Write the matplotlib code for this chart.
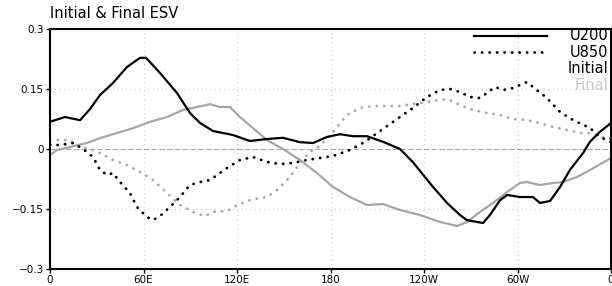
import matplotlib
matplotlib.use("Agg")
import matplotlib.pyplot as plt
import numpy as np

# U200 initial (black solid)
lon_u200_init = [0, 9.6, 19.3, 25.7, 32.1, 40.4, 49.4, 57.8, 61.6, 70.6, 81.5, 89.8, 96.3, 104.6,
                 117.4, 128.3, 139.3, 149.5, 160.4, 168.8, 177.7, 186.1, 194.4, 203.4, 213.7, 224.6,
                 232.9, 245.8, 254.8, 263.1, 267.6, 277.9, 282.3, 288.8, 293.3, 301.6, 309.9, 314.4,
                 320.9, 327.3, 333.7, 342.1, 346.5, 352.9, 360]
u200_init = [0.068, 0.08, 0.072, 0.10, 0.135, 0.165, 0.205, 0.228, 0.228, 0.19, 0.14, 0.09, 0.065, 0.045,
             0.035, 0.02, 0.025, 0.028, 0.017, 0.015, 0.03, 0.037, 0.032, 0.032, 0.018, 0.0,
             -0.033, -0.095, -0.135, -0.165, -0.178, -0.185, -0.165, -0.128, -0.115, -0.12, -0.12, -0.135,
             -0.13, -0.095, -0.052, -0.01, 0.018, 0.043, 0.065]

# U200 final (gray solid)
lon_u200_final = [0, 4.5, 10.9, 23.7, 32.1, 43, 53.3, 64.2, 75.1, 85.3, 94.3, 102.7, 109.1, 115.5,
                  121.9, 130.3, 139.3, 149.5, 160.4, 171.3, 181.6, 192.5, 203.4, 213.7, 224.6, 237.4,
                  250.3, 261.2, 267.6, 275.9, 284.3, 293.3, 301.6, 306.1, 314.4, 322.8, 329.2, 338.2,
                  346.5, 360]
u200_final = [-0.015, -0.0025, 0.003, 0.015, 0.027, 0.04, 0.052, 0.068, 0.08, 0.0975, 0.105, 0.112, 0.105, 0.105,
              0.08, 0.052, 0.022, 0.0, -0.0275, -0.06, -0.095, -0.12, -0.14, -0.1375, -0.1525, -0.165,
              -0.1825, -0.1925, -0.1825, -0.1575, -0.135, -0.1075, -0.085, -0.0825, -0.09, -0.085, -0.0825, -0.07,
              -0.0525, -0.0225]

# U850 initial (black dotted)
lon_u850_init = [0, 6.4, 14.8, 21.2, 27.6, 32.1, 36.6, 40.4, 44.9, 51.3, 55.8, 62.2, 66.1, 70.6, 77,
                 83.4, 89.8, 96.3, 102.7, 113.6, 121.9, 130.3, 139.3, 147.6, 155.9, 164.9, 173.3,
                 181.6, 192.5, 202.1, 211.8, 224.6, 232.9, 241.9, 250.3, 256.7, 263.1, 269.5, 275.9,
                 280.4, 285.6, 290.7, 297.1, 306.1, 309.9, 318.9, 327.3, 335.6, 346.5, 352.9, 360]
u850_init = [0.01, 0.01, 0.015, 0.0, -0.02, -0.0525, -0.065, -0.06, -0.0825, -0.11, -0.145, -0.17, -0.1775, -0.1675, -0.145,
             -0.12, -0.09, -0.0825, -0.0775, -0.0475, -0.0275, -0.02, -0.0325, -0.0375, -0.035, -0.0275, -0.0225,
             -0.0175, -0.0025, 0.018, 0.045, 0.08, 0.1025, 0.13, 0.1475, 0.15, 0.1425, 0.13, 0.1275,
             0.14, 0.155, 0.1475, 0.1525, 0.1675, 0.155, 0.1275, 0.0925, 0.0725, 0.0525, 0.03, 0.0175]

# U850 final (gray dotted)
lon_u850_final = [0, 12.8, 19.3, 25.7, 32.1, 40.4, 49.4, 57.8, 66.1, 75.1, 83.4, 91.8, 99.5, 104.6,
                  113.6, 120, 128.3, 139.3, 145.7, 154, 160.4, 166.8, 173.3, 181.6, 190.6, 198.9,
                  207.3, 224.6, 232.9, 241.9, 250.3, 254.8, 263.1, 271.4, 280.4, 288.8, 297.1, 306.1,
                  314.4, 322.8, 331.7, 340.1, 348.4, 352.9, 360]
u850_final = [0.0225, 0.0225, 0.005, 0.0, -0.01, -0.0275, -0.04, -0.0575, -0.0775, -0.11, -0.14, -0.1575, -0.168, -0.1575,
              -0.155, -0.14, -0.1275, -0.12, -0.1025, -0.07, -0.035, -0.0075, 0.008, 0.0425, 0.085, 0.1025,
              0.1075, 0.1075, 0.1125, 0.1175, 0.1225, 0.125, 0.11, 0.0975, 0.09, 0.085, 0.075, 0.0725,
              0.065, 0.055, 0.0475, 0.04, 0.04, 0.03, 0.025]

xticks = [0, 60, 120, 180, 240, 300, 360]
xlabels = ["0", "60E", "120E", "180", "120W", "60W", "0"]
yticks = [-0.3, -0.15, 0, 0.15, 0.3]
ylabels = ["\u22120.3", "\u22120.15", "0", "0.15", "0.3"]

DOT = (0, (0.1, 2.6))

fig = plt.figure(figsize=(6.12, 2.86), dpi=100)
ax = fig.add_axes([50 / 612, 1 - 269 / 286, 561 / 612, 240 / 286])

for xv in xticks[1:-1]:
    ax.axvline(xv, color="#c8c8c8", lw=0.8, ls=(0, (1, 3)), zorder=1)
for yv in [-0.15, 0.15]:
    ax.axhline(yv, color="#c8c8c8", lw=0.8, ls=(0, (1, 3)), zorder=1)
ax.axhline(0, color="#a8a8a8", lw=0.8, ls=(0, (5, 2)), zorder=1)

ax.plot(lon_u200_final, u200_final, color="#a6a6a6", lw=1.6, zorder=2)
ax.plot(lon_u850_final, u850_final, color="#aaaaaa", lw=2.0, ls=DOT,
        dash_capstyle="round", zorder=2)
ax.plot(lon_u200_init, u200_init, color="black", lw=1.6, zorder=3)
ax.plot(lon_u850_init, u850_init, color="black", lw=2.0, ls=DOT,
        dash_capstyle="round", zorder=3)

ax.set_xlim(0, 360)
ax.set_ylim(-0.3, 0.3)
ax.set_xticks(xticks)
ax.set_xticklabels(xlabels)
ax.set_yticks(yticks)
ax.set_yticklabels(ylabels)
ax.tick_params(labelsize=7.5, length=3, width=1, pad=1.5)
for sp in ax.spines.values():
    sp.set_linewidth(1.5)

# legend drawn by hand, right aligned
ax.plot([0.756, 0.886], [0.971, 0.971], transform=ax.transAxes, color="black", lw=1.6, zorder=4)
ax.plot([0.756, 0.886], [0.904, 0.904], transform=ax.transAxes, color="black", lw=2.0,
        ls=DOT, dash_capstyle="round", zorder=4)
leg_texts = [("U200", 0.971, "black"), ("U850", 0.904, "black"),
             ("Initial", 0.834, "black"), ("Final", 0.765, "#c8c8c8")]
for txt, yy, col in leg_texts:
    ax.text(0.995, yy, txt, transform=ax.transAxes, ha="right", va="center",
            fontsize=10.5, color=col, zorder=5)

fig.text(50 / 612, 1 - 14 / 286, "Initial & Final ESV", ha="left", va="center", fontsize=10.5)

fig.savefig("out.png", dpi=100)
